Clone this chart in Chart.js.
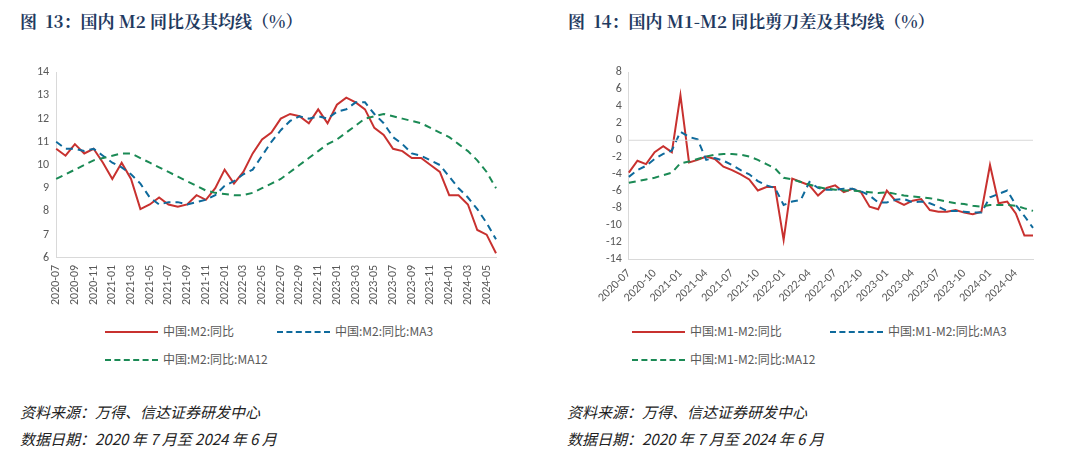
<!DOCTYPE html>
<html><head><meta charset="utf-8">
<script src="https://cdn.jsdelivr.net/npm/chart.js@4"></script>
<style>
body{margin:0;width:1080px;height:467px;background:#fff;position:relative;font-family:"Noto Sans CJK SC",sans-serif;overflow:hidden}
.title{position:absolute;top:8px;font-family:"Noto Serif CJK SC","Liberation Serif","Noto Sans CJK SC";font-weight:bold;font-size:17px;color:#1f3a5f}
.wrap{position:absolute;top:62px}
.leg{position:absolute;font-size:12px;color:#595959;font-family:"Noto Sans CJK SC"}
.leg span{position:absolute;white-space:nowrap}
.line{position:absolute;width:53px;height:0}
.src{position:absolute;font-style:italic;font-size:15px;color:#222;font-family:"Noto Sans CJK SC";line-height:27px}
</style></head><body>
<div class="title" style="left:20px">图&nbsp; 13：国内 M2 同比及其均线（%）</div>
<div class="title" style="left:568px">图&nbsp; 14：国内 M1-M2 同比剪刀差及其均线（%）</div>
<div class="wrap" style="left:18px;width:500px;height:246px"><canvas id="c1"></canvas></div>
<div class="wrap" style="left:565px;width:500px;height:246px"><canvas id="c2"></canvas></div>
<div class="leg" style="left:0;top:322px">
 <div class="line" style="left:105px;top:9px;border-top:2px solid #c8312f"></div><span style="left:163px;top:0">中国:M2:同比</span>
 <div class="line" style="left:277px;top:9px;border-top:2px dashed #0e6a9c"></div><span style="left:335px;top:0">中国:M2:同比:MA3</span>
 <div class="line" style="left:105px;top:37px;border-top:2px dashed #1b8a55"></div><span style="left:163px;top:28px">中国:M2:同比:MA12</span>
</div>
<div class="leg" style="left:0;top:322px">
 <div class="line" style="left:632px;top:9px;border-top:2px solid #c8312f"></div><span style="left:690px;top:0">中国:M1-M2:同比</span>
 <div class="line" style="left:830px;top:9px;border-top:2px dashed #0e6a9c"></div><span style="left:888px;top:0">中国:M1-M2:同比:MA3</span>
 <div class="line" style="left:632px;top:37px;border-top:2px dashed #1b8a55"></div><span style="left:690px;top:28px">中国:M1-M2:同比:MA12</span>
</div>
<div class="src" style="left:20px;top:398px">资料来源：万得、信达证券研发中心<br>数据日期：2020 年 7 月至 2024 年 6 月</div>
<div class="src" style="left:567px;top:398px">资料来源：万得、信达证券研发中心<br>数据日期：2020 年 7 月至 2024 年 6 月</div>
<script>
const months = [];
for (let y = 2020; y <= 2024; y++) for (let m = 1; m <= 12; m++) {
  if ((y === 2020 && m < 7) || (y === 2024 && m > 6)) continue;
  months.push(y + '-' + String(m).padStart(2, '0'));
}
const m2 = [10.7,10.4,10.9,10.5,10.7,10.1,9.4,10.1,9.4,8.1,8.3,8.6,8.3,8.2,8.3,8.7,8.5,9.0,9.8,9.2,9.7,10.5,11.1,11.4,12.0,12.2,12.1,11.8,12.4,11.8,12.6,12.9,12.7,12.4,11.6,11.3,10.7,10.6,10.3,10.3,10.0,9.7,8.7,8.7,8.3,7.2,7.0,6.2];
const m2Ma3 = [11.0,10.7,10.7,10.6,10.7,10.4,10.1,9.9,9.6,9.2,8.6,8.3,8.4,8.4,8.3,8.4,8.5,8.7,9.1,9.3,9.6,9.8,10.4,11.0,11.5,11.9,12.1,12.0,12.1,12.0,12.3,12.4,12.7,12.7,12.2,11.8,11.2,10.9,10.5,10.4,10.2,10.0,9.5,9.0,8.6,8.1,7.5,6.8];
const m2Ma12 = [9.4,9.6,9.8,10.0,10.2,10.3,10.4,10.5,10.5,10.3,10.1,9.9,9.7,9.5,9.3,9.1,8.9,8.8,8.75,8.7,8.7,8.8,9.0,9.2,9.4,9.7,10.0,10.3,10.6,10.9,11.1,11.4,11.7,12.0,12.1,12.2,12.1,12.0,11.9,11.8,11.6,11.4,11.2,10.9,10.6,10.2,9.7,9.0];
const gap = [-3.8,-2.4,-2.8,-1.4,-0.7,-1.4,5.3,-2.6,-2.3,-1.9,-2.2,-3.1,-3.5,-4.0,-4.6,-5.9,-5.5,-5.5,-11.7,-4.5,-4.9,-5.3,-6.5,-5.6,-5.3,-6.1,-5.7,-6.1,-7.8,-8.1,-5.9,-7.1,-7.6,-7.1,-6.9,-8.2,-8.4,-8.4,-8.2,-8.5,-8.7,-8.4,-2.9,-7.4,-7.2,-8.6,-11.2,-11.2];
const gapMa3 = [-4.3,-3.5,-3.0,-2.2,-1.6,-1.2,1.0,0.4,0.1,-2.3,-2.1,-2.4,-2.9,-3.5,-4.0,-4.8,-5.3,-5.6,-7.6,-7.2,-7.0,-4.9,-5.6,-5.8,-5.8,-5.7,-5.7,-6.0,-6.5,-7.3,-7.3,-7.0,-6.9,-7.3,-7.2,-7.4,-7.8,-8.3,-8.3,-8.4,-8.5,-8.5,-6.7,-6.3,-5.9,-7.6,-8.9,-10.3];
const gapMa12 = [-5.0,-4.8,-4.6,-4.4,-4.1,-3.8,-2.7,-2.5,-2.2,-1.9,-1.7,-1.6,-1.6,-1.7,-1.9,-2.3,-2.8,-3.3,-4.4,-4.6,-4.9,-5.2,-5.5,-5.7,-5.8,-5.9,-5.9,-6.0,-6.1,-6.2,-6.1,-6.3,-6.5,-6.6,-6.7,-6.8,-7.0,-7.2,-7.4,-7.5,-7.7,-7.8,-7.6,-7.6,-7.6,-7.7,-8.0,-8.3];

const tickFont = { family: 'Calibri, Carlito, "Liberation Sans", sans-serif', size: 12 };
const ds = (data, color, dash) => ({ data, borderColor: color, borderWidth: 2, borderDash: dash, pointRadius: 0, tension: 0, fill: false });

const makeChart = (id, s1, s2, s3, min, max, step, every, rot, pad) => new Chart(document.getElementById(id), {
  type: 'line',
  data: { labels: months, datasets: [ds(s3, '#1b8a55', [7, 5]), ds(s2, '#0e6a9c', [7, 5]), ds(s1, '#c8312f', [])] },
  options: {
    responsive: true, maintainAspectRatio: false, animation: false,
    layout: { padding: pad },
    plugins: { legend: { display: false }, tooltip: { enabled: false } },
    scales: {
      x: {
        offset: false,
        grid: { display: false, drawTicks: true, tickLength: 4, color: '#d9d9d9' },
        border: { color: '#d9d9d9' },
        ticks: { color: '#595959', font: tickFont, autoSkip: false, maxRotation: rot, minRotation: rot,
          callback: (v, i) => i % every === 0 ? months[i] : '' }
      },
      y: {
        min, max,
        grid: { display: false, drawTicks: true, tickLength: 4 },
        border: { color: '#d9d9d9' },
        ticks: { color: '#595959', font: tickFont, stepSize: step, autoSkip: false }
      }
    }
  },
  plugins: [{
    id: 'zero',
    afterDraw(c) {
      if (min >= 0) return;
      const y = c.scales.y.getPixelForValue(0), a = c.chartArea, ctx = c.ctx;
      ctx.save(); ctx.strokeStyle = '#d9d9d9'; ctx.lineWidth = 1;
      ctx.beginPath(); ctx.moveTo(a.left, y); ctx.lineTo(a.right, y); ctx.stroke(); ctx.restore();
    }
  }]
});

makeChart('c1', m2, m2Ma3, m2Ma12, 6, 14, 1, 2, 90, { left: 16, right: 22, top: 8 });
makeChart('c2', gap, gapMa3, gapMa12, -14, 8, 2, 3, 45, { left: 38, right: 32, top: 8 });
</script>
</body></html>
